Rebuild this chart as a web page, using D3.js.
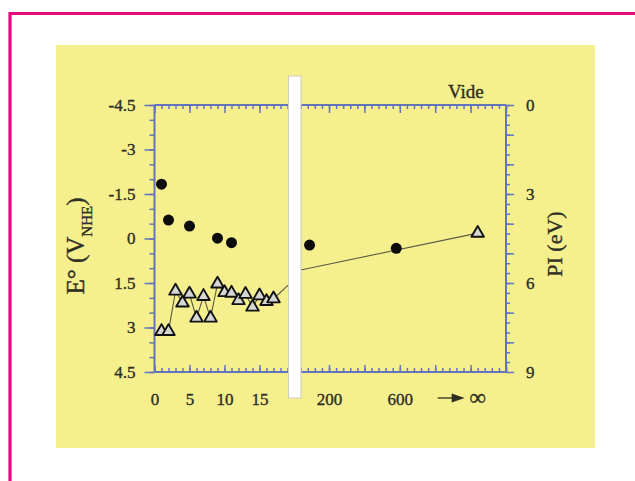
<!DOCTYPE html>
<html>
<head>
<meta charset="utf-8">
<script src="https://cdn.jsdelivr.net/npm/d3@7"></script>
<style>
  html, body { margin: 0; padding: 0; background: #fff; }
  svg { display: block; }
  .lbl { font-family: "Liberation Serif", "Times New Roman", serif; fill: #2e2e22; stroke: #2e2e22; stroke-width: 0.35px; }
</style>
</head>
<body>
<svg id="chart" width="635" height="481"></svg>
<script>
// cluster size n (left part of the broken axis)
const triN = [1, 2, 3, 4, 5, 6, 7, 8, 9, 10, 11, 12, 13, 14, 15, 16, 17];
const triE = [3.13, 3.13, 1.77, 2.17, 1.87, 2.68, 1.95, 2.68, 1.53, 1.82, 1.84, 2.09, 1.88, 2.31, 1.93, 2.12, 2.03];

const dotN = [1, 2, 5, 9, 11];
const dotE = [-1.83, -0.62, -0.42, -0.01, 0.14];

// right part of the broken axis
const dotFarN = [90, 580];
const dotFarE = [0.22, 0.33];

const infN = 1040;      // where "∞" sits on the right part
const infE = -0.18;     // triangle at n -> ∞

// the guide line crossing the break
const bridgeLeft = [[17, 2.03], [19.1, 1.57]];
const bridgeRight = [[40, 1.06], [infN, infE]];

const eTicks = [-4.5, -3, -1.5, 0, 1.5, 3, 4.5];
const piTicks = [0, 3, 6, 9];
const nTicksLeft = [0, 5, 10, 15];
const nTicksRight = [200, 600];

const W = 635, H = 481;
const plot = {left: 154.5, right: 506, top: 105, bottom: 372, breakL: 288.5, breakR: 301};
const axisColor = '#6473bd';
const svg = d3.select('#chart');

// page frame + panel
svg.append('path')
    .attr('d', `M10,${H} V13.5 H${W}`)
    .attr('fill', 'none')
    .attr('stroke', '#e6087f')
    .attr('stroke-width', 3.2);

svg.append('rect')
    .attr('x', 56).attr('y', 45)
    .attr('width', 539).attr('height', 403)
    .attr('fill', '#f5ef8e');

// scales
const xL = d3.scaleLinear().domain([0, 19]).range([plot.left, plot.left + 19 * 7]);
const xR = d3.scaleLinear().domain([40, 1200]).range([plot.breakR - 0.3, plot.right]);
const yE = d3.scaleLinear().domain([-4.5, 4.5]).range([plot.top, plot.bottom]);
const yPI = d3.scaleLinear().domain([0, 9]).range([plot.top, plot.bottom]);

function styleAxis(g) {
    g.select('.domain').remove();
    g.selectAll('.tick line').attr('stroke', axisColor).attr('stroke-width', 1.5);
    g.selectAll('.tick text')
        .attr('class', 'lbl')
        .attr('fill', '#2e2e22')
        .style('font-family', '"Liberation Serif", "Times New Roman", serif')
        .style('font-size', '17px');
}

// frame lines
const frame = svg.append('g').attr('stroke', axisColor).attr('stroke-width', 2);
frame.append('line').attr('x1', plot.left).attr('x2', plot.right).attr('y1', plot.top).attr('y2', plot.top);
frame.append('line').attr('x1', plot.left).attr('x2', plot.right).attr('y1', plot.bottom).attr('y2', plot.bottom);
frame.append('line').attr('x1', plot.left).attr('x2', plot.left).attr('y1', plot.top).attr('y2', plot.bottom);
frame.append('line').attr('x1', plot.right).attr('x2', plot.right).attr('y1', plot.top).attr('y2', plot.bottom);

// left axis (E°)
svg.append('g').attr('transform', `translate(${plot.left},0)`)
    .call(d3.axisLeft(yE).tickValues(d3.range(-4.5, 4.51, 0.5)).tickSize(5).tickFormat(''))
    .call(styleAxis);
svg.append('g').attr('transform', `translate(${plot.left},0)`)
    .call(d3.axisLeft(yE).tickValues(eTicks).tickSize(10).tickPadding(9).tickFormat(d => d))
    .call(styleAxis);

// right axis (PI)
svg.append('g').attr('transform', `translate(${plot.right},0)`)
    .call(d3.axisRight(yPI).tickValues(d3.range(0, 27).map(i => i / 3)).tickSize(4).tickFormat(''))
    .call(styleAxis);
svg.append('g').attr('transform', `translate(${plot.right},0)`)
    .call(d3.axisRight(yPI).tickValues(d3.range(0, 10)).tickSize(8).tickPadding(12)
        .tickFormat(d => piTicks.includes(d) ? d : ''))
    .call(styleAxis);

// top axis: ticks point inward
[[xL, d3.range(0, 20), d3.range(0, 20, 5)], [xR, d3.range(40, 1201, 40), d3.range(200, 1201, 200)]]
    .forEach(([x, minor, major]) => {
        svg.append('g').attr('transform', `translate(0,${plot.top})`)
            .call(d3.axisBottom(x).tickValues(minor).tickSize(4).tickFormat(''))
            .call(styleAxis);
        svg.append('g').attr('transform', `translate(0,${plot.top})`)
            .call(d3.axisBottom(x).tickValues(major).tickSize(8).tickFormat(''))
            .call(styleAxis);
    });

// bottom axis: ticks point inward, labels below
[[xL, d3.range(0, 20), d3.range(0, 20, 5), nTicksLeft], [xR, d3.range(40, 1201, 40), d3.range(200, 1201, 200), nTicksRight]]
    .forEach(([x, minor, major, labels]) => {
        svg.append('g').attr('transform', `translate(0,${plot.bottom})`)
            .call(d3.axisBottom(x).tickValues(minor).tickSizeInner(-4).tickSizeOuter(0).tickFormat(''))
            .call(styleAxis);
        svg.append('g').attr('transform', `translate(0,${plot.bottom})`)
            .call(d3.axisBottom(x).tickValues(major).tickSizeInner(-7).tickSizeOuter(0).tickPadding(21)
                .tickFormat(d => labels.includes(d) ? d : ''))
            .call(styleAxis);
    });

// arrow toward infinity
const infG = svg.append('g').attr('transform', `translate(${xR(infN)},398)`);
infG.append('line').attr('x1', -40).attr('x2', -20).attr('y1', 0).attr('y2', 0)
    .attr('stroke', '#2e2e22').attr('stroke-width', 1.3);
infG.append('path').attr('d', 'M-26,-4.5 L-13,0 L-26,4.5 Z').attr('fill', '#2e2e22');
infG.append('text').attr('class', 'lbl').attr('x', 0).attr('y', 7)
    .attr('text-anchor', 'middle').style('font-size', '23px').text('∞');

// guide line through the triangles
const lineL = d3.line().x(d => xL(d[0])).y(d => yE(d[1]));
const lineR = d3.line().x(d => xR(d[0])).y(d => yE(d[1]));
const lineStyle = p => p.attr('fill', 'none').attr('stroke', '#5c5a44').attr('stroke-width', 1.1);
svg.append('path').attr('d', lineL(triN.map((n, i) => [n, triE[i]]))).call(lineStyle);
svg.append('path').attr('d', lineL(bridgeLeft)).call(lineStyle);
svg.append('path').attr('d', lineR(bridgeRight)).call(lineStyle);

// filled circles
svg.append('g').selectAll('circle')
    .data(dotN.map((n, i) => [xL(n), yE(dotE[i])]).concat(dotFarN.map((n, i) => [xR(n), yE(dotFarE[i])])))
    .join('circle')
    .attr('cx', d => d[0]).attr('cy', d => d[1])
    .attr('r', 5.5).attr('fill', '#0c0c0c');

// triangles
const tri = d3.symbol().type(d3.symbolTriangle).size(68);
svg.append('g').selectAll('path')
    .data(triN.map((n, i) => [xL(n), yE(triE[i])]).concat([[xR(infN), yE(infE)]]))
    .join('path')
    .attr('d', tri)
    .attr('transform', d => `translate(${d[0]},${d[1]})`)
    .attr('fill', '#d6d6d2')
    .attr('stroke', '#111')
    .attr('stroke-width', 1.9)
    .attr('stroke-linejoin', 'round');

// axis break bar
svg.append('rect')
    .attr('x', plot.breakL).attr('y', 76)
    .attr('width', plot.breakR - plot.breakL).attr('height', 322)
    .attr('fill', '#fff').attr('stroke', '#cfcdb4').attr('stroke-width', 1);

// "Vide" = vacuum level
svg.append('text').attr('class', 'lbl')
    .attr('x', 448).attr('y', 98)
    .style('font-size', '19px').text('Vide');

// axis titles
const yTitle = svg.append('text').attr('class', 'lbl')
    .attr('transform', 'translate(84,246) rotate(-90)')
    .attr('text-anchor', 'middle')
    .style('font-size', '25px');
yTitle.append('tspan').text('E° (V');
yTitle.append('tspan').attr('dy', 8).style('font-size', '15px').text('NHE');
yTitle.append('tspan').attr('dy', -8).text(')');

svg.append('text').attr('class', 'lbl')
    .attr('transform', 'translate(562,244) rotate(-90)')
    .attr('text-anchor', 'middle')
    .style('font-size', '22px')
    .text('PI (eV)');
</script>
</body>
</html>
